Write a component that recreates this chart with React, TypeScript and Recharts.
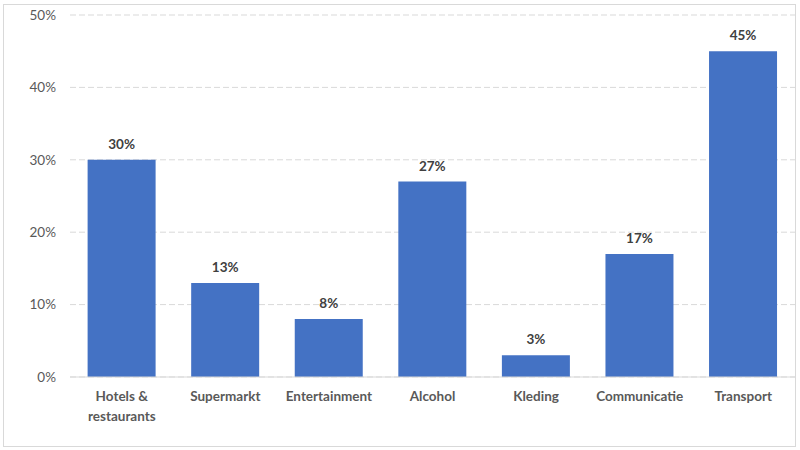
import React from 'react';
import { BarChart, Bar, XAxis, YAxis, CartesianGrid, LabelList } from 'recharts';

const categories = [
  'Hotels & restaurants',
  'Supermarkt',
  'Entertainment',
  'Alcohol',
  'Kleding',
  'Communicatie',
  'Transport',
];
const shares = [30, 13, 8, 27, 3, 17, 45];
const yTicks = [0, 10, 20, 30, 40, 50];

const chartData = categories.map((name, i) => ({ name, share: shares[i] }));

const FONT = 'Lato, "Open Sans", sans-serif';

// pack words greedily into lines of about 11 characters
const wrapLabel = (label: string) => {
  const lines: string[] = [];
  let current = '';
  label.split(' ').forEach(word => {
    const next = current ? current + ' ' + word : word;
    if (current && next.length > 11) {
      lines.push(current);
      current = word;
    } else {
      current = next;
    }
  });
  if (current) lines.push(current);
  return lines;
};

const CategoryTick = (props: any) => {
  const { x, y, payload } = props;
  const lines = wrapLabel(payload.value);
  return (
    <text
      x={x}
      y={y}
      textAnchor="middle"
      fontFamily={FONT}
      fontSize={13.5}
      fontWeight="bold"
      fill="#595959"
    >
      {lines.map((line, i) => (
        <tspan key={i} x={x} dy={i === 0 ? 16 : 20}>
          {line}
        </tspan>
      ))}
    </text>
  );
};

const App: React.FC = () => {
  return (
    <div style={{ position: 'absolute', left: 0, top: 0, width: 800, height: 450, background: '#fff' }}>
      <div
        style={{
          position: 'absolute',
          left: 3,
          top: 4,
          width: 791,
          height: 441,
          border: '1px solid #d9d9d9',
        }}
      />
      <div style={{ position: 'absolute', left: 0, top: 0 }}>
        <BarChart
          width={800}
          height={450}
          data={chartData}
          margin={{ top: 15, right: 5, left: 0, bottom: 0 }}
          barCategoryGap="17%"
        >
          <CartesianGrid vertical={false} stroke="#d9d9d9" strokeDasharray="6 3" />
          <XAxis
            dataKey="name"
            interval={0}
            tickLine={false}
            axisLine={{ stroke: '#d9d9d9' }}
            tick={<CategoryTick />}
            height={73}
          />
          <YAxis
            width={70}
            domain={[0, 50]}
            ticks={yTicks}
            tickFormatter={(v: number) => `${v}%`}
            axisLine={false}
            tickLine={false}
            tickSize={0}
            tickMargin={14}
            tick={{ fontFamily: FONT, fontSize: 13.5, fill: '#595959' }}
          />
          <Bar dataKey="share" fill="#4472c4" isAnimationActive={false}>
            <LabelList
              dataKey="share"
              position="top"
              offset={11}
              formatter={(v: any) => `${v}%`}
              style={{ fontFamily: FONT, fontSize: 13.5, fontWeight: 'bold', fill: '#404040' }}
            />
          </Bar>
        </BarChart>
      </div>
    </div>
  );
};

export default App;
